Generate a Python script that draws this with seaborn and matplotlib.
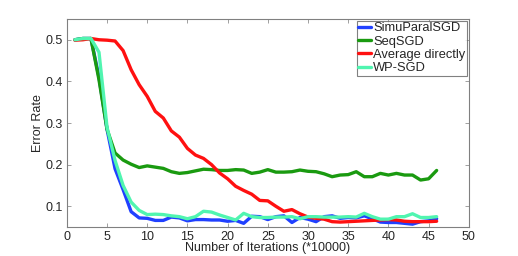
import matplotlib
matplotlib.use("Agg")
import matplotlib.pyplot as plt
import seaborn as sns
import numpy as np
import pandas as pd

iterations = list(range(1, 47))

simu_paral_sgd = [0.5, 0.503, 0.503, 0.41, 0.285, 0.19, 0.14, 0.087, 0.072, 0.071,
                  0.066, 0.066, 0.074, 0.072, 0.065, 0.068, 0.068, 0.067, 0.067, 0.064,
                  0.066, 0.059, 0.076, 0.075, 0.068, 0.075, 0.077, 0.061, 0.073, 0.069,
                  0.063, 0.075, 0.077, 0.071, 0.073, 0.072, 0.077, 0.070, 0.062, 0.061,
                  0.061, 0.059, 0.057, 0.063, 0.065, 0.070]
seq_sgd = [0.5, 0.503, 0.503, 0.404, 0.285, 0.228, 0.211, 0.201, 0.193, 0.197,
           0.194, 0.191, 0.183, 0.179, 0.181, 0.185, 0.189, 0.188, 0.186, 0.186,
           0.188, 0.187, 0.179, 0.182, 0.188, 0.182, 0.182, 0.183, 0.187, 0.184,
           0.183, 0.178, 0.171, 0.175, 0.176, 0.183, 0.171, 0.171, 0.179, 0.175,
           0.179, 0.175, 0.175, 0.163, 0.166, 0.186]
average_directly = [0.499, 0.5, 0.503, 0.5, 0.499, 0.497, 0.474, 0.428, 0.392, 0.364,
                    0.328, 0.312, 0.281, 0.266, 0.239, 0.223, 0.215, 0.2, 0.18, 0.166,
                    0.148, 0.138, 0.129, 0.114, 0.113, 0.1, 0.088, 0.092, 0.082, 0.074,
                    0.071, 0.069, 0.063, 0.062, 0.063, 0.064, 0.065, 0.066, 0.067, 0.068,
                    0.067, 0.064, 0.063, 0.063, 0.063, 0.064]
wp_sgd = [0.5, 0.503, 0.503, 0.47, 0.29, 0.21, 0.15, 0.11, 0.09, 0.08,
          0.081, 0.08, 0.077, 0.075, 0.07, 0.075, 0.088, 0.086, 0.079, 0.073,
          0.067, 0.083, 0.075, 0.073, 0.073, 0.074, 0.074, 0.075, 0.07, 0.075,
          0.075, 0.074, 0.074, 0.074, 0.075, 0.074, 0.083, 0.075, 0.069, 0.069,
          0.075, 0.075, 0.082, 0.073, 0.073, 0.075]

labels = ["SimuParalSGD", "SeqSGD", "Average directly", "WP-SGD"]
colors = ["#2040ff", "#1a9a10", "#ff1010", "#50f5b0"]
series = [simu_paral_sgd, seq_sgd, average_directly, wp_sgd]

x_ticks = [0, 5, 10, 15, 20, 25, 30, 35, 40, 45, 50]
y_ticks = [0.1, 0.2, 0.3, 0.4, 0.5]

sns.set_style("white")
plt.rcParams['font.family'] = ['Liberation Sans', 'DejaVu Sans']

fig = plt.figure(figsize=(5.18, 2.56), dpi=100)
ax = fig.add_axes([0.129, 0.113, 0.776, 0.813])

for lab, col, ys in zip(labels, colors, series):
    df = pd.DataFrame({"x": iterations, "y": ys})
    sns.lineplot(data=df, x="x", y="y", ax=ax, color=col, linewidth=2.4, label=lab)

ax.set_xlim(0, 50)
ax.set_ylim(0.05, 0.55)
ax.set_xticks(x_ticks)
ax.set_xticklabels([str(t) for t in x_ticks])
ax.set_yticks(y_ticks)
ax.set_yticklabels([f"{t:.1f}" for t in y_ticks])
ax.tick_params(direction="in", length=3, width=0.6, color="#909090",
               labelsize=9, top=True, right=True, bottom=True, left=True, pad=3)
for s in ax.spines.values():
    s.set_color("#808080")
    s.set_linewidth(0.8)

ax.set_xlabel("Number of Iterations (*10000)", fontsize=9, labelpad=-1)
ax.set_ylabel("Error Rate", fontsize=9, labelpad=1)

leg = ax.legend(loc="upper right", fontsize=9.3, frameon=True, fancybox=False,
                handlelength=1.0, handletextpad=0.15, borderpad=0.1,
                labelspacing=0.1, borderaxespad=0.15, edgecolor="#606060")
leg.get_frame().set_linewidth(0.8)

fig.savefig("out.png", dpi=100)
